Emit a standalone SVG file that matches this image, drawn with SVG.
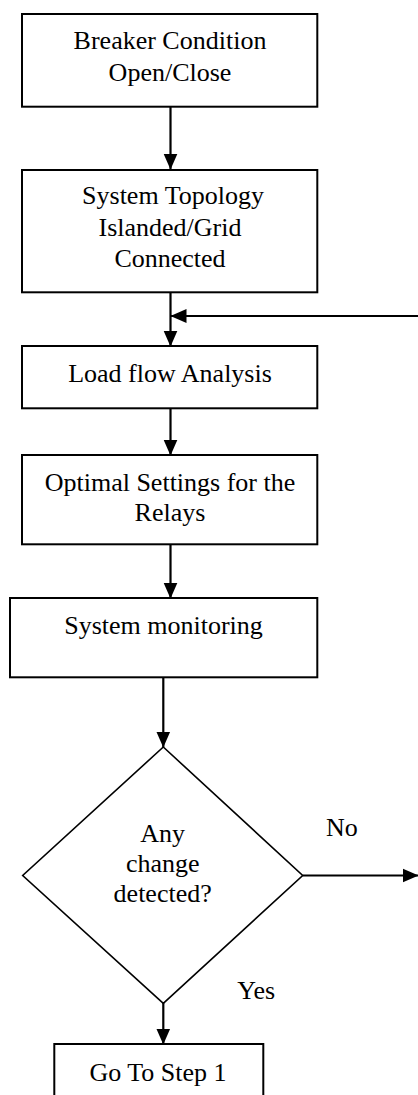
<svg xmlns="http://www.w3.org/2000/svg" width="418" height="1095" viewBox="0 0 418 1095">
<defs>
<style>
.box{fill:#fff;stroke:#000;stroke-width:2}
.dia{fill:#fff;stroke:#000;stroke-width:1.6}
.t{font-size:26px;fill:#000;text-anchor:middle}
.tl{font-size:26px;fill:#000}
.c{fill:none;stroke:#000;stroke-width:2.2}
</style>
<marker id="ah" markerUnits="userSpaceOnUse" markerWidth="16" markerHeight="16" viewBox="0 0 16 16" refX="15.5" refY="8" orient="auto">
<path d="M0,1 L16,8 L0,15 Z" fill="#000"/>
</marker>
</defs>
<rect width="418" height="1095" fill="#fff"/>
<g id="connectors">
<line class="c" x1="170.5" y1="107" x2="170.5" y2="169" marker-end="url(#ah)"/>
<line class="c" x1="170.5" y1="292" x2="170.5" y2="346" marker-end="url(#ah)"/>
<line class="c" x1="418" y1="316" x2="171" y2="316" marker-end="url(#ah)"/>
<line class="c" x1="170.5" y1="408" x2="170.5" y2="455" marker-end="url(#ah)"/>
<line class="c" x1="170.5" y1="544" x2="170.5" y2="598" marker-end="url(#ah)"/>
<line class="c" x1="163.3" y1="677" x2="163.3" y2="747" marker-end="url(#ah)"/>
<line class="c" x1="302.7" y1="875.5" x2="418" y2="875.5" marker-end="url(#ah)"/>
<line class="c" x1="163.3" y1="1003" x2="163.3" y2="1044" marker-end="url(#ah)"/>
</g>
<g font-family="Liberation Serif, Tinos, Times New Roman, DejaVu Serif, serif">
<g id="n1">
<rect class="box" x="22" y="14" width="295.3" height="92.7"/>
<text class="t" x="170" y="49">Breaker Condition</text>
<text class="t" x="170" y="81">Open/Close</text>
</g>
<g id="n2">
<rect class="box" x="22" y="170" width="295.3" height="122.3"/>
<text class="t" x="173" y="204">System Topology</text>
<text class="t" x="170" y="235.5">Islanded/Grid</text>
<text class="t" x="170" y="266.5">Connected</text>
</g>
<g id="n3">
<rect class="box" x="22" y="346" width="295.3" height="62.3"/>
<text class="t" x="170" y="382">Load flow Analysis</text>
</g>
<g id="n4">
<rect class="box" x="22" y="455" width="295.3" height="89.3"/>
<text class="t" x="170" y="490.5">Optimal Settings for the</text>
<text class="t" x="170" y="521">Relays</text>
</g>
<g id="n5">
<rect class="box" x="10" y="598" width="307.3" height="79.3"/>
<text class="t" x="163.5" y="634">System monitoring</text>
</g>
<g id="n6">
<polygon class="dia" points="163.3,747 302.7,875.5 163.3,1003.3 22.7,875.5"/>
<text class="t" x="162.7" y="841.5">Any</text>
<text class="t" x="162.7" y="871.5">change</text>
<text class="t" x="162.7" y="902">detected?</text>
</g>
<g id="n7">
<rect class="box" x="54.3" y="1044" width="209" height="60"/>
<text class="t" x="158" y="1080.5">Go To Step 1</text>
</g>
<g id="labels">
<text class="tl" x="326" y="835.5">No</text>
<text class="tl" x="237.3" y="999.3">Yes</text>
</g>
</g>
</svg>
